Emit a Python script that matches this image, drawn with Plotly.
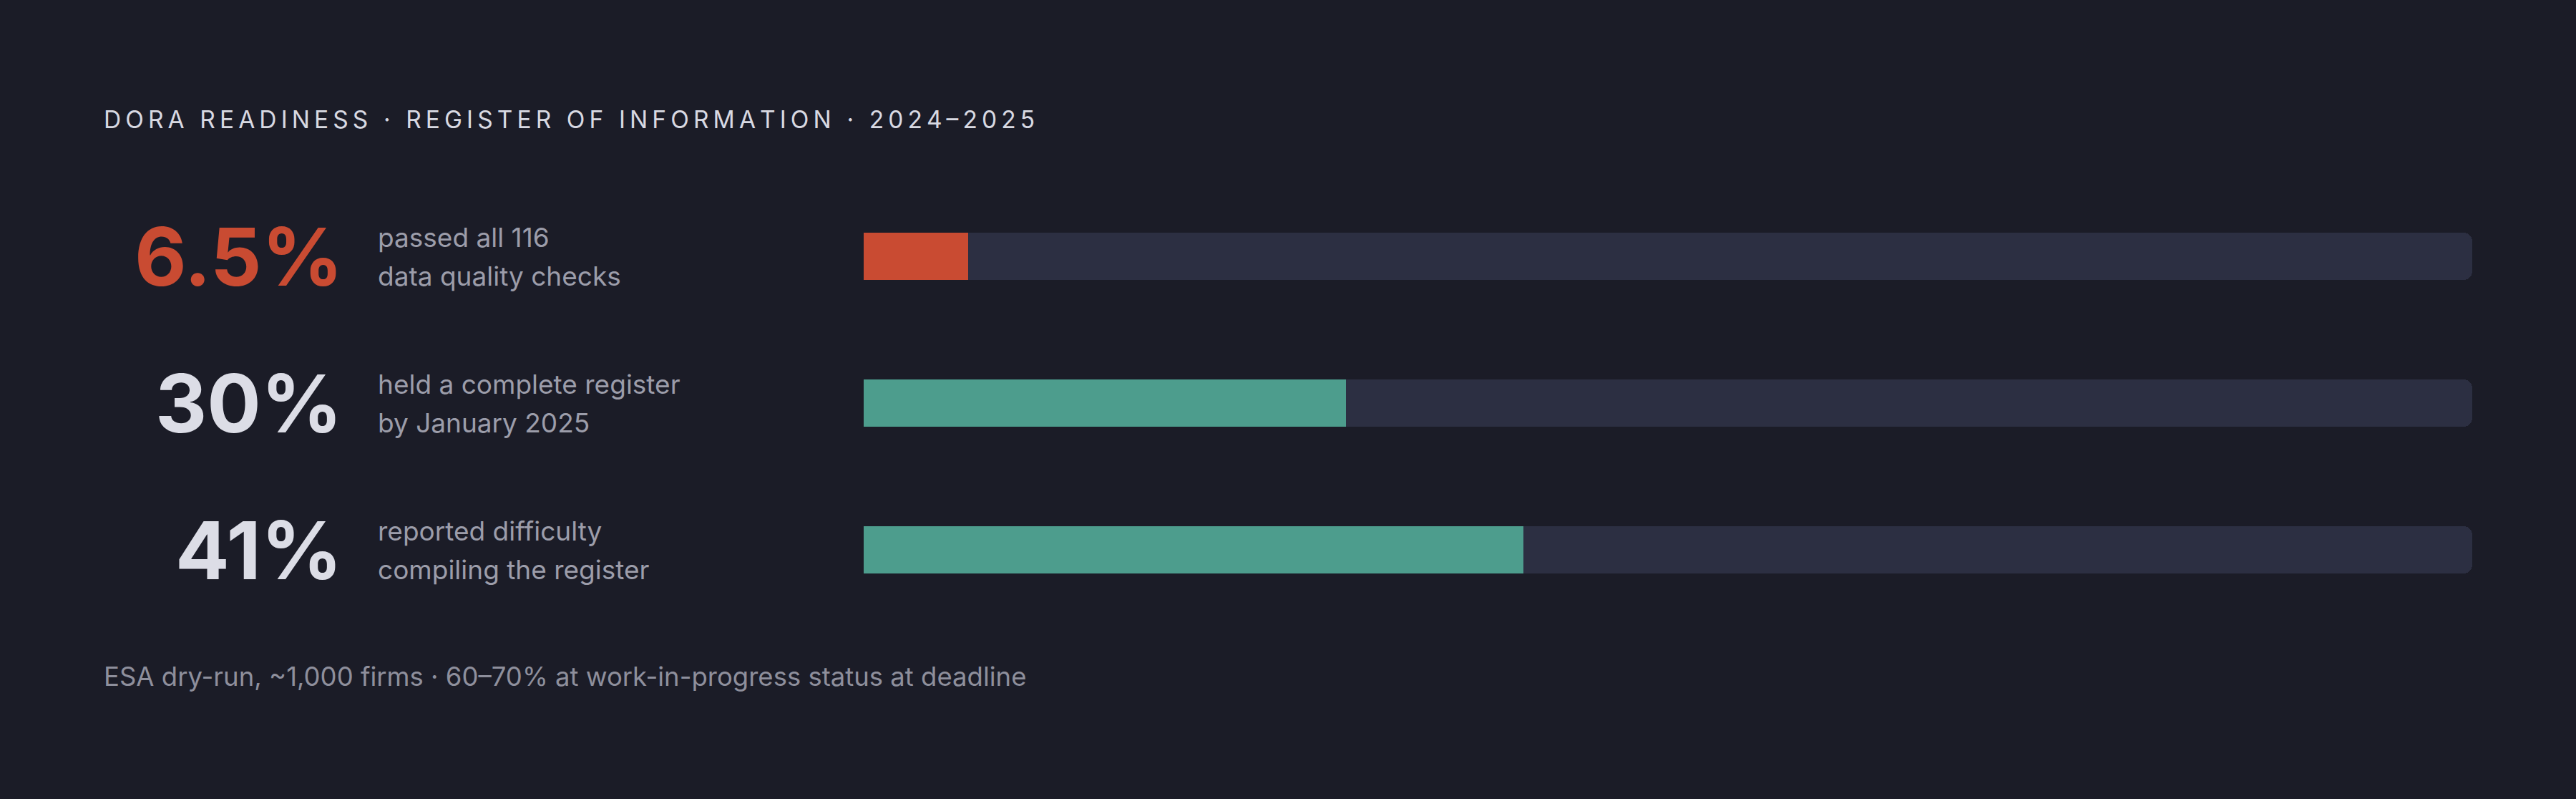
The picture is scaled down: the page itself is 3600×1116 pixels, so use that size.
import plotly.graph_objects as go

# data
stats = ["6.5%", "30%", "41%"]
values = [6.5, 30, 41]
line1 = ["passed all 116", "held a complete register", "reported difficulty"]
line2 = ["data quality checks", "by January 2025", "compiling the register"]
fill_colors = ["#c94b32", "#4d9d8d", "#4d9d8d"]
stat_colors = ["#c94b32", "#dcdde6", "#dcdde6"]
title_text = "DORA READINESS · REGISTER OF INFORMATION · 2024–2025"
footer_text = "ESA dry-run, ~1,000 firms · 60–70% at work-in-progress status at deadline"

W, H = 3600, 1116
BG = "#1b1c27"
TRACK = "#2c2f42"
FONT = "Inter"

rows = list(range(len(values)))

fig = go.Figure()
fig.add_trace(go.Bar(x=[100] * len(values), y=rows, orientation="h", width=0.322,
                     marker=dict(color=TRACK, cornerradius=12, line=dict(width=0)),
                     hoverinfo="skip", showlegend=False))
fig.add_trace(go.Bar(x=values, y=rows, orientation="h", width=0.322,
                     marker=dict(color=fill_colors, cornerradius=12, line=dict(width=0)),
                     showlegend=False))

# letter-spaced title using thin spaces
spaced_title = "\u2009".join(title_text)

ann = []
for i in rows:
    ann.append(dict(x=481 / W, y=i, xref="paper", yref="y", xanchor="right", yanchor="middle",
                    text=stats[i], showarrow=False,
                    font=dict(family=FONT, size=112, color=stat_colors[i], weight=700)))
    ann.append(dict(x=526 / W, y=i, xref="paper", yref="y", xanchor="left", yanchor="middle",
                    text=line1[i], showarrow=False, yshift=27,
                    font=dict(family=FONT, size=37, color="#9c9daa")))
    ann.append(dict(x=526 / W, y=i, xref="paper", yref="y", xanchor="left", yanchor="middle",
                    text=line2[i], showarrow=False, yshift=-27,
                    font=dict(family=FONT, size=37, color="#9c9daa")))

ann.append(dict(x=143 / W, y=1 - 167 / H, xref="paper", yref="paper", xanchor="left", yanchor="middle",
                text=spaced_title, showarrow=False,
                font=dict(family=FONT, size=33.5, color="#d8d9e2")))
ann.append(dict(x=143 / W, y=1 - 945 / H, xref="paper", yref="paper", xanchor="left", yanchor="middle",
                text=footer_text, showarrow=False,
                font=dict(family=FONT, size=36.5, color="#8e8f9c")))

fig.update_layout(
    width=W, height=H,
    margin=dict(l=0, r=0, t=0, b=0),
    paper_bgcolor=BG, plot_bgcolor=BG,
    barmode="overlay", bargap=0,
    xaxis=dict(domain=[1207 / W, 3455 / W], range=[0, 100], visible=False, fixedrange=True),
    yaxis=dict(domain=[0, 1], range=[(H - 358) / 205, -358 / 205], visible=False, fixedrange=True),
    annotations=ann,
)

fig.write_html("out.html", config={"displayModeBar": False},
               post_script="document.body.style.margin='0';document.body.style.background='#1b1c27';")
